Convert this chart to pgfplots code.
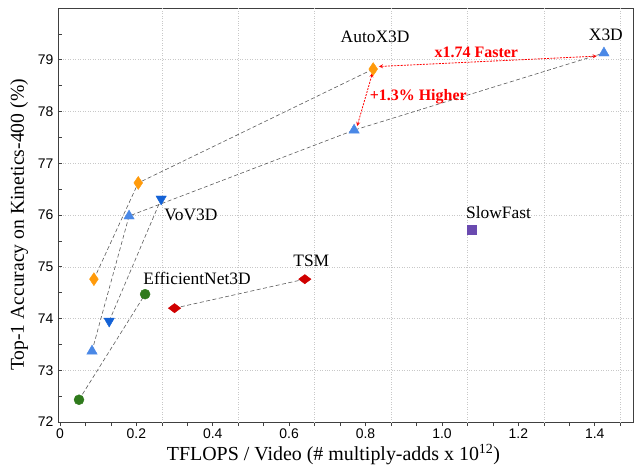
\documentclass[border=0pt]{standalone}
\usepackage{pgfplots}
\pgfplotsset{compat=1.18}
\usepackage{fontspec}
\setmainfont{Liberation Serif}
\newfontfamily\arialfont{Liberation Sans}
\definecolor{cAuto}{HTML}{FF9A0A}
\definecolor{cX3D}{HTML}{4A88E6}
\definecolor{cVoV}{HTML}{1462D6}
\definecolor{cEff}{HTML}{2F7A1C}
\definecolor{cTSM}{HTML}{D00000}
\definecolor{cSF}{HTML}{6A4AB0}
\definecolor{cGrid}{HTML}{C8C8C8}
\definecolor{cLine}{HTML}{5A5A5A}
\begin{document}
\begin{tikzpicture}
\begin{axis}[
  scale only axis,
  width=575bp, height=414bp,
  xmin=-0.005, xmax=1.5,
  ymin=72, ymax=80,
  axis line style={draw=black!75, line width=0.9pt},
  xtick={0,0.2,0.4,0.6,0.8,1.0,1.2,1.4},
  xticklabels={0,0.2,0.4,0.6,0.8,1.0,1.2,1.4},
  minor xtick={0.0667,0.1333,0.2667,0.3333,0.4667,0.5333,0.6667,0.7333,0.8667,0.9333,1.0667,1.1333,1.2667,1.3333,1.4667},
  ytick={72,73,74,75,76,77,78,79},
  minor ytick={72.5,73.5,74.5,75.5,76.5,77.5,78.5,79.5},
  xtick pos=bottom, ytick pos=left,
  tick align=inside,
  major tick length=4bp, minor tick length=4bp,
  every tick/.style={draw=black!75, line width=0.6pt},
  x tick style={yshift=-4bp},
  ymajorgrids=true,
  extra x ticks={0.2667,0.4667,0.6667,0.8667,1.0667,1.2667,1.4667},
  extra x tick labels={},
  extra x tick style={grid=major, major tick length=0pt},
  grid style={cGrid, line width=0.5pt, dotted},
  /pgf/number format/assume math mode=true,
  ticklabel style={font=\arialfont\fontsize{14}{16}\selectfont},
  xticklabel style={yshift=-3bp},
  yticklabel style={xshift=-1bp},
  xlabel={TFLOPS / Video (\# multiply-adds x 10\textsuperscript{12})},
  ylabel={Top-1 Accuracy on Kinetics-400 (\%)},
  xlabel style={font=\fontsize{20}{22}\selectfont, yshift=1bp, xshift=-12bp},
  ylabel style={font=\fontsize{19.7}{21}\selectfont, yshift=3bp, xshift=-10bp},
  clip=false,
]
% connecting dashed lines
\addplot[cLine, line width=0.6pt, dash pattern=on 4pt off 2.5pt, mark=none] coordinates {(0.089,74.76) (0.205,76.62) (0.82,78.82)};
\addplot[cLine, line width=0.6pt, dash pattern=on 4pt off 2.5pt, mark=none] coordinates {(0.084,73.37) (0.181,75.98) (0.77,77.64) (1.424,79.13)};
\addplot[cLine, line width=0.6pt, dash pattern=on 4pt off 2.5pt, mark=none] coordinates {(0.129,73.95) (0.265,76.31)};
\addplot[cLine, line width=0.6pt, dash pattern=on 4pt off 2.5pt, mark=none] coordinates {(0.05,72.43) (0.223,74.47)};
\addplot[cLine, line width=0.6pt, dash pattern=on 4pt off 2.5pt, mark=none] coordinates {(0.30,74.20) (0.641,74.76)};
% markers
\addplot[only marks, mark=diamond*, mark size=6.5bp, mark options={fill=cAuto, draw=cAuto, xscale=0.9}] coordinates {(0.089,74.76) (0.205,76.62) (0.82,78.82)};
\addplot[only marks, mark=triangle*, mark size=6bp, mark options={fill=cX3D, draw=cX3D}] coordinates {(0.084,73.37) (0.181,75.98) (0.77,77.64) (1.424,79.13)};
\addplot[only marks, mark=triangle*, mark size=6bp, mark options={fill=cVoV, draw=cVoV, rotate=180}] coordinates {(0.129,73.95) (0.265,76.31)};
\addplot[only marks, mark=*, mark size=5bp, mark options={fill=cEff, draw=cEff}] coordinates {(0.05,72.43) (0.223,74.47)};
\addplot[only marks, mark=diamond*, mark size=8.3bp, mark options={fill=cTSM, draw=cTSM, yscale=0.56}] coordinates {(0.30,74.20) (0.641,74.76)};
\addplot[only marks, mark=square*, mark size=4.5bp, mark options={fill=cSF, draw=cSF}] coordinates {(1.078,75.71)};
% annotations
\begin{scope}[every node/.style={font=\fontsize{17.5}{19}\selectfont, anchor=base, inner sep=0pt}]
\node at (axis cs:0.825,79.34) {AutoX3D};
\node at (axis cs:1.429,79.37) {X3D};
\node at (axis cs:0.343,75.89) {VoV3D};
\node at (axis cs:0.359,74.65) {EfficientNet3D};
\node at (axis cs:0.658,75.00) {TSM};
\node at (axis cs:1.148,75.94) {SlowFast};
\end{scope}
\draw[red, line width=0.8pt, dash pattern=on 2pt off 1.2pt, <->, >=stealth] (axis cs:0.835,78.87) -- (axis cs:1.405,79.07);
\draw[red, line width=0.8pt, dash pattern=on 2pt off 1.2pt, <->, >=stealth] (axis cs:0.818,78.74) -- (axis cs:0.778,77.72);
\node[red, font=\bfseries\fontsize{16}{18}\selectfont, anchor=base, inner sep=0pt] at (axis cs:1.09,79.05) {x1.74 Faster};
\node[red, font=\bfseries\fontsize{16}{18}\selectfont, anchor=base, inner sep=0pt] at (axis cs:0.938,78.21) {+1.3\% Higher};
\end{axis}
\pgfresetboundingbox
\path ([xshift=-58bp,yshift=-46bp]current axis.south west) rectangle ([xshift=1bp,yshift=8bp]current axis.north east);
\end{tikzpicture}
\end{document}
